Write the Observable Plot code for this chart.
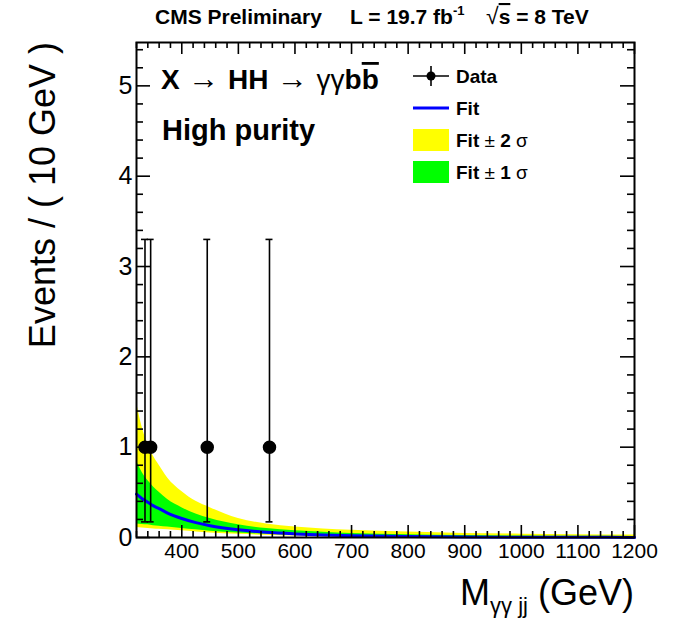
<!DOCTYPE html>
<html><head><meta charset="utf-8">
<script src="https://cdn.jsdelivr.net/npm/d3@7"></script>
<script src="https://cdn.jsdelivr.net/npm/@observablehq/plot@0.6"></script>
<style>
body{margin:0;background:#fff}
#chart{position:relative;width:675px;height:618px}
</style>
</head><body><div id="chart"></div>
<script>
// ---- data ----
const mass   = [320, 330, 340, 350, 360, 375, 400, 425, 450, 500, 550, 600, 650, 700, 800, 900, 1000, 1100, 1200];
const fitVal = [0.48, 0.43, 0.39, 0.35, 0.32, 0.27, 0.21, 0.165, 0.13, 0.085, 0.057, 0.04, 0.028, 0.02, 0.011, 0.006, 0.0035, 0.002, 0.0012];
const hi2    = [1.50, 1.22, 1.03, 0.90, 0.80, 0.66, 0.51, 0.40, 0.33, 0.21, 0.15, 0.115, 0.095, 0.08, 0.06, 0.045, 0.037, 0.031, 0.027];
const hi1    = [0.85, 0.72, 0.63, 0.56, 0.50, 0.42, 0.33, 0.26, 0.21, 0.14, 0.10, 0.075, 0.058, 0.045, 0.03, 0.022, 0.017, 0.014, 0.012];
const lo1    = [0.15, 0.145, 0.14, 0.13, 0.125, 0.115, 0.10, 0.085, 0.07, 0.05, 0.035, 0.025, 0.018, 0.012, 0.006, 0.003, 0.002, 0.001, 0.0005];
const lo2    = [0.11, 0.105, 0.10, 0.095, 0.09, 0.085, 0.075, 0.062, 0.05, 0.035, 0.024, 0.016, 0.011, 0.007, 0.003, 0.0015, 0.001, 0.0005, 0.0002];

const dataMass  = [335, 345, 445, 555];
const dataCount = [1, 1, 1, 1];
const errLow    = [0.173, 0.173, 0.173, 0.173];
const errHigh   = [3.30, 3.30, 3.30, 3.30];

const xTickLabels = [400, 500, 600, 700, 800, 900, 1000, 1100, 1200];
const yTickLabels = [0, 1, 2, 3, 4, 5];

// ---- tables ----
const band = mass.map((m, i) => ({m, fit: fitVal[i], hi2: hi2[i], lo2: lo2[i], hi1: hi1[i], lo1: lo1[i]}));
const pts = dataMass.map((m, i) => ({m, n: dataCount[i], lo: errLow[i], hi: errHigh[i]}));
const xMinor = d3.range(320, 1201, 20).filter(v => v % 100 !== 0);
const yMinor = d3.range(0, 5.41, 0.2).map(v => +v.toFixed(1)).filter(v => v % 1 !== 0);

const W = 675, H = 618, mL = 136, mR = 41, mT = 42, mB = 81;
const iW = W - mL - mR, iH = H - mT - mB;
const FONT = "'Liberation Sans', Arial, Helvetica, sans-serif";

const plot = Plot.plot({
  width: W, height: H,
  marginLeft: mL, marginRight: mR, marginTop: mT, marginBottom: mB,
  style: {fontFamily: FONT, background: "white", color: "black"},
  x: {domain: [320, 1200]},
  y: {domain: [0, 5.48]},
  marks: [
    Plot.areaY(band, {x: "m", y1: "lo2", y2: "hi2", fill: "#ffff00", curve: "monotone-x"}),
    Plot.areaY(band, {x: "m", y1: "lo1", y2: "hi1", fill: "#00ff00", curve: "monotone-x"}),
    Plot.line(band, {x: "m", y: "fit", stroke: "#0000ff", strokeWidth: 3, curve: "monotone-x"}),
    Plot.ruleX(pts, {x: "m", y1: "lo", y2: "hi", stroke: "black", strokeWidth: 1.6}),
    Plot.ruleY(pts, {y: "lo", x1: "m", x2: "m", insetLeft: -3.5, insetRight: -3.5, stroke: "black", strokeWidth: 1.6}),
    Plot.ruleY(pts, {y: "hi", x1: "m", x2: "m", insetLeft: -3.5, insetRight: -3.5, stroke: "black", strokeWidth: 1.6}),
    Plot.dot(pts, {x: "m", y: "n", r: 6, fill: "black", stroke: "black"}),
    // inward ticks on all four sides
    Plot.ruleX(xTickLabels, {x: d => d, insetTop: iH - 12, stroke: "black", strokeWidth: 1.6}),
    Plot.ruleX(xTickLabels, {x: d => d, insetBottom: iH - 12, stroke: "black", strokeWidth: 1.6}),
    Plot.ruleX(xMinor, {x: d => d, insetTop: iH - 6, stroke: "black", strokeWidth: 1.6}),
    Plot.ruleX(xMinor, {x: d => d, insetBottom: iH - 6, stroke: "black", strokeWidth: 1.6}),
    Plot.ruleY(yTickLabels, {y: d => d, insetRight: iW - 14, stroke: "black", strokeWidth: 1.6}),
    Plot.ruleY(yTickLabels, {y: d => d, insetLeft: iW - 14, stroke: "black", strokeWidth: 1.6}),
    Plot.ruleY(yMinor, {y: d => d, insetRight: iW - 7, stroke: "black", strokeWidth: 1.6}),
    Plot.ruleY(yMinor, {y: d => d, insetLeft: iW - 7, stroke: "black", strokeWidth: 1.6}),
    Plot.frame({stroke: "black", strokeWidth: 2}),
    Plot.axisX({ticks: xTickLabels, tickSize: 0, tickPadding: 6, fontSize: 21, label: null, tickFormat: d => String(d)}),
    Plot.axisY({ticks: yTickLabels, tickSize: 0, tickPadding: 4, fontSize: 25, label: null, tickFormat: d => String(d)})
  ]
});
document.getElementById("chart").appendChild(plot);

// ---- annotations: titles, labels, legend ----
const svg = d3.select(plot);
const g = svg.append("g").attr("font-family", FONT).attr("fill", "black").attr("text-anchor", "start");

function rich(sel, parts) {
  parts.forEach(p => {
    const t = sel.append("tspan").text(p.t);
    if (p.w) t.attr("font-weight", p.w);
    if (p.s) t.attr("font-size", p.s);
    if (p.dy) t.attr("dy", p.dy);
    if (p.o) t.style("text-decoration", "overline");
  });
  return sel;
}

// top title
g.append("text").attr("x", 155).attr("y", 24).attr("font-size", 21).attr("font-weight", "bold").text("CMS Preliminary");
rich(g.append("text").attr("x", 350).attr("y", 24).attr("font-size", 21).attr("font-weight", "bold"),
  [{t: "L = 19.7 fb"}, {t: "-1", s: 13, dy: -9}]);
rich(g.append("text").attr("x", 486).attr("y", 24).attr("font-size", 21).attr("font-weight", "bold"),
  [{t: "\u221A", w: "normal", s: 23}, {t: "s", o: true}, {t: " = 8 TeV"}]);

// y title
g.append("text").attr("transform", "translate(55,42) rotate(-90)")
  .attr("text-anchor", "end").attr("font-size", 36).text("Events / ( 10 GeV )");

// x title
rich(g.append("text").attr("x", 634).attr("y", 605).attr("text-anchor", "end").attr("font-size", 36),
  [{t: "M"}, {t: "\u03B3\u03B3 jj", s: 22, dy: 8}, {t: " (GeV)", dy: -8}]);

// in-frame labels
rich(g.append("text").attr("x", 161).attr("y", 89).attr("font-size", 28).attr("font-weight", "bold"),
  [{t: "X"}, {t: " \u2192 ", w: "normal", s: 31}, {t: "HH"}, {t: " \u2192 ", w: "normal", s: 31}, {t: "\u03B3\u03B3", w: "normal"}, {t: "b"}, {t: "b", o: true}]);
g.append("text").attr("x", 162).attr("y", 140).attr("font-size", 29).attr("font-weight", "bold").text("High purity");

// legend
const lx0 = 413, lx1 = 449, tx = 456;
const rows = [76, 108, 140, 172];
g.append("line").attr("x1", lx0).attr("x2", lx1).attr("y1", rows[0]).attr("y2", rows[0]).attr("stroke", "black").attr("stroke-width", 1.6);
g.append("line").attr("x1", (lx0 + lx1) / 2).attr("x2", (lx0 + lx1) / 2).attr("y1", rows[0] - 10).attr("y2", rows[0] + 10).attr("stroke", "black").attr("stroke-width", 1.6);
g.append("circle").attr("cx", (lx0 + lx1) / 2).attr("cy", rows[0]).attr("r", 4.5).attr("fill", "black");
g.append("line").attr("x1", lx0).attr("x2", lx1).attr("y1", rows[1]).attr("y2", rows[1]).attr("stroke", "#0000ff").attr("stroke-width", 3);
g.append("rect").attr("x", lx0).attr("y", rows[2] - 11).attr("width", lx1 - lx0).attr("height", 22).attr("fill", "#ffff00");
g.append("rect").attr("x", lx0).attr("y", rows[3] - 11).attr("width", lx1 - lx0).attr("height", 22).attr("fill", "#00ff00");
const lt = (y, parts) => rich(g.append("text").attr("x", tx).attr("y", y + 7).attr("font-size", 19).attr("font-weight", "bold"), parts);
lt(rows[0], [{t: "Data"}]);
lt(rows[1], [{t: "Fit"}]);
lt(rows[2], [{t: "Fit "}, {t: "\u00B1", w: "normal"}, {t: " 2 "}, {t: "\u03C3", w: "normal"}]);
lt(rows[3], [{t: "Fit "}, {t: "\u00B1", w: "normal"}, {t: " 1 "}, {t: "\u03C3", w: "normal"}]);
</script>
</body></html>
